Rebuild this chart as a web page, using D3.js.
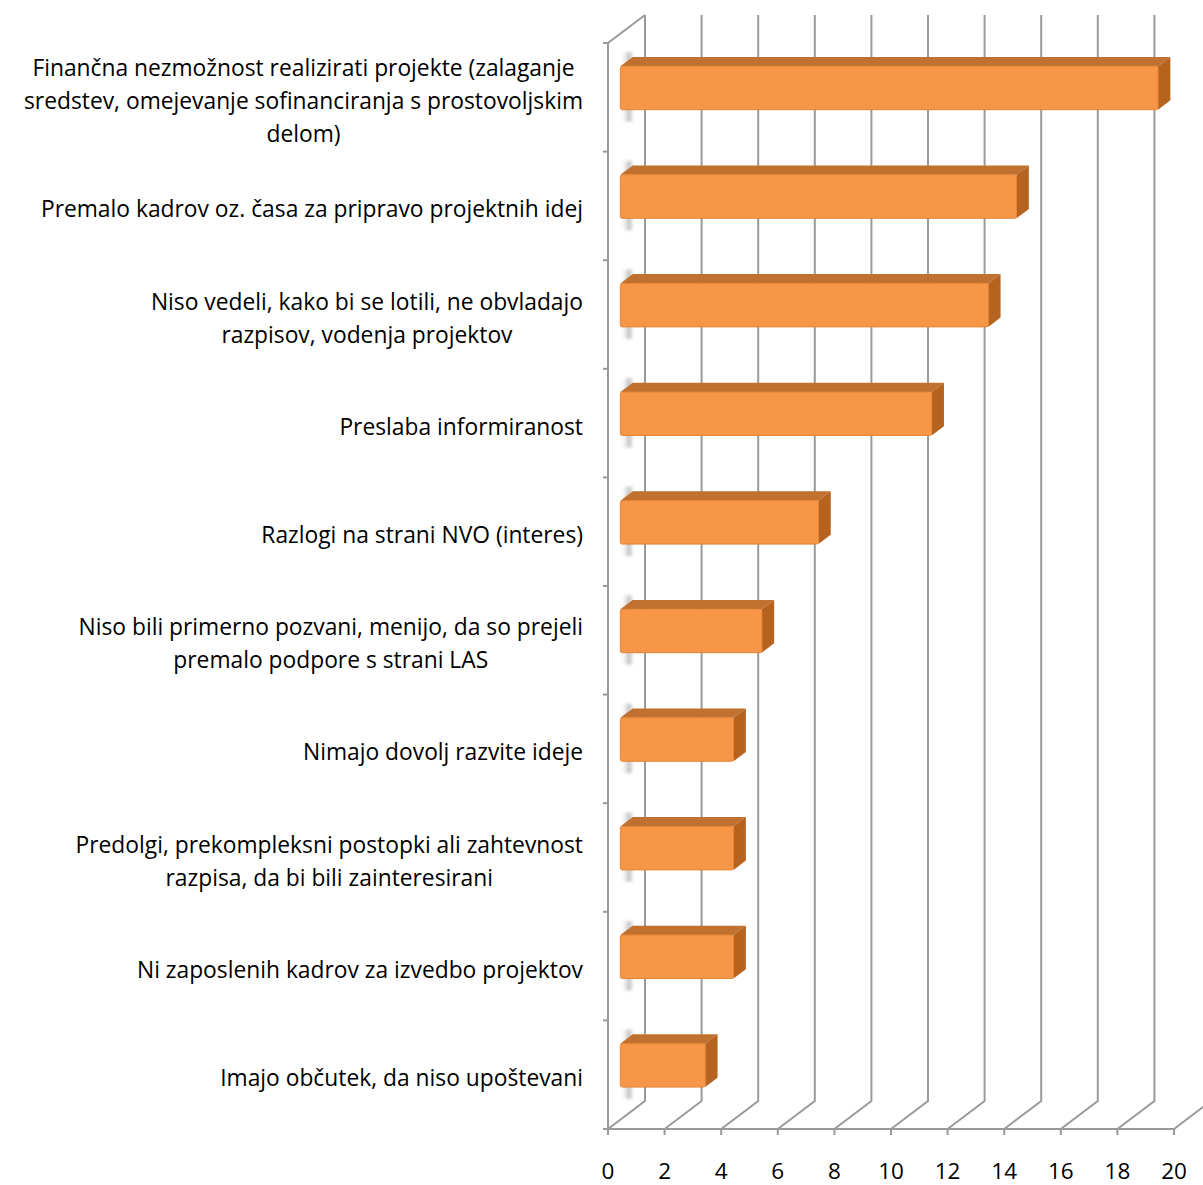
<!DOCTYPE html>
<html>
<head>
<meta charset="utf-8">
<script src="https://cdn.jsdelivr.net/npm/d3@7"></script>
<style>
  body { margin: 0; background: #fff; }
  text { font-family: "Open Sans", Lato, sans-serif; fill: #000; }
</style>
</head>
<body>
<div class="chart"></div>
<script>
// categories, top to bottom (each entry = wrapped lines)
var categories = [
  ["Finančna nezmožnost realizirati projekte (zalaganje", "sredstev, omejevanje sofinanciranja s prostovoljskim", "delom)"],
  ["Premalo kadrov oz. časa za pripravo projektnih idej"],
  ["Niso vedeli, kako bi se lotili, ne obvladajo", "razpisov, vodenja projektov"],
  ["Preslaba informiranost"],
  ["Razlogi na strani NVO (interes)"],
  ["Niso bili primerno pozvani, menijo, da so prejeli", "premalo podpore s strani LAS"],
  ["Nimajo dovolj razvite ideje"],
  ["Predolgi, prekompleksni postopki ali zahtevnost", "razpisa, da bi bili zainteresirani"],
  ["Ni zaposlenih kadrov za izvedbo projektov"],
  ["Imajo občutek, da niso upoštevani"]
];
var values = [19, 14, 13, 11, 7, 5, 4, 4, 4, 3];
var tickValues = [0, 2, 4, 6, 8, 10, 12, 14, 16, 18, 20];

var W = 1203, H = 1185;
var depthX = 37, depthY = -28;   // wall depth offset

var svg = d3.select(".chart").append("svg")
    .attr("width", W)
    .attr("height", H);

var x = d3.scaleLinear().domain([0, 20]).range([608, 1174]);
var y = d3.scaleBand()
    .domain(d3.range(categories.length))
    .range([43, 1129])
    .paddingInner(0).paddingOuter(0);

var defs = svg.append("defs");
var sh = defs.append("linearGradient").attr("id", "shade").attr("x1", 0).attr("x2", 1);
sh.append("stop").attr("offset", "0%").attr("stop-color", "#fff").attr("stop-opacity", 0);
sh.append("stop").attr("offset", "70%").attr("stop-color", "#b8b8b8").attr("stop-opacity", 0.9);
sh.append("stop").attr("offset", "100%").attr("stop-color", "#d8d8d8").attr("stop-opacity", 0.6);
defs.append("filter").attr("id", "blur").append("feGaussianBlur").attr("stdDeviation", 1.5);

var gridColor = "#9a9a9a";
var floorY = y.range()[1];

// gridlines on back wall + floor diagonals
svg.selectAll("path.grid")
    .data(tickValues)
    .enter()
        .append("path")
        .attr("fill", "none")
        .attr("stroke", gridColor)
        .attr("stroke-width", 2)
        .attr("d", function (d)
            {
                var fx = x(d);
                return "M" + fx + "," + floorY +
                       "L" + (fx + depthX) + "," + (floorY + depthY) +
                       "L" + (fx + depthX) + "," + (y.range()[0] + depthY);
            });

// left wall front edge and top diagonal
svg.append("path")
    .attr("fill", "none")
    .attr("stroke", gridColor)
    .attr("stroke-width", 2)
    .attr("d", "M" + x(0) + "," + floorY + "L" + x(0) + "," + y.range()[0] +
               "L" + (x(0) + depthX) + "," + (y.range()[0] + depthY));

// front floor axis
svg.append("line")
    .attr("x1", x(0) - 5).attr("x2", x(20) + 1)
    .attr("y1", floorY).attr("y2", floorY)
    .attr("stroke", gridColor).attr("stroke-width", 2);

svg.selectAll("line.xtick")
    .data(tickValues)
    .enter()
        .append("line")
        .attr("x1", function (d) { return x(d); })
        .attr("x2", function (d) { return x(d); })
        .attr("y1", floorY)
        .attr("y2", floorY + 6)
        .attr("stroke", gridColor).attr("stroke-width", 2);

// category ticks on left edge
svg.selectAll("line.ytick")
    .data(d3.range(categories.length + 1))
    .enter()
        .append("line")
        .attr("x1", x(0) - 5)
        .attr("x2", x(0))
        .attr("y1", function (i) { return y.range()[0] + i * y.step(); })
        .attr("y2", function (i) { return y.range()[0] + i * y.step(); })
        .attr("stroke", gridColor).attr("stroke-width", 2);

// x tick labels
svg.selectAll("text.xlab")
    .data(tickValues)
    .enter()
        .append("text")
        .attr("x", function (d) { return x(d); })
        .attr("y", 1179)
        .attr("text-anchor", "middle")
        .attr("font-size", "22.5px")
        .text(function (d) { return d; });

// bars: front face at 1/3 depth, back at 2/3
var bx = depthX / 3, by = depthY / 3;
var barH = y.bandwidth() * 0.4;

var bars = svg.selectAll("g.bar")
    .data(values)
    .enter()
        .append("g");

// faint reflection on left wall
bars.append("rect")
    .attr("x", x(0) + bx)
    .attr("y", function (d, i) { return y(i) + y.bandwidth() / 2 + by - barH / 2 - 14; })
    .attr("width", bx)
    .attr("height", barH + 26)
    .attr("fill", "url(#shade)")
    .attr("filter", "url(#blur)");

// top face
bars.append("path")
    .attr("fill", "#c0712f")
    .attr("d", function (d, i)
        {
            var x0 = x(0) + bx, x1 = x(d) + bx;
            var t = y(i) + y.bandwidth() / 2 + by - barH / 2;
            return "M" + x0 + "," + t + "L" + (x0 + bx) + "," + (t + by) +
                   "L" + (x1 + bx) + "," + (t + by) + "L" + x1 + "," + t + "Z";
        });

// side face
bars.append("path")
    .attr("fill", "#b5631f")
    .attr("d", function (d, i)
        {
            var x1 = x(d) + bx;
            var t = y(i) + y.bandwidth() / 2 + by - barH / 2;
            return "M" + x1 + "," + t + "L" + (x1 + bx) + "," + (t + by) +
                   "L" + (x1 + bx) + "," + (t + by + barH) + "L" + x1 + "," + (t + barH) + "Z";
        });

// front face
bars.append("rect")
    .attr("x", x(0) + bx)
    .attr("y", function (d, i) { return y(i) + y.bandwidth() / 2 + by - barH / 2; })
    .attr("width", function (d) { return x(d) - x(0); })
    .attr("height", barH)
    .attr("rx", 2)
    .attr("fill", "#f79646")
    .attr("stroke", "#e58535")
    .attr("stroke-width", 1);

// category labels: block right-aligned, lines centred in block
var labelRight = 583, lineH = 33;
categories.forEach(function (lines, i)
{
    var g = svg.append("g");
    var cy = y(i) + y.bandwidth() / 2 + 3;
    var top = cy - (lines.length - 1) * lineH / 2;
    var texts = g.selectAll("text")
        .data(lines)
        .enter()
            .append("text")
            .attr("font-size", "22.8px")
            .attr("dominant-baseline", "central")
            .attr("text-anchor", "middle")
            .attr("y", function (d, j) { return top + j * lineH; })
            .text(function (d) { return d; });
    var maxW = 0;
    texts.each(function () { maxW = Math.max(maxW, this.getComputedTextLength()); });
    texts.attr("x", labelRight - maxW / 2);
});
</script>
</body>
</html>
